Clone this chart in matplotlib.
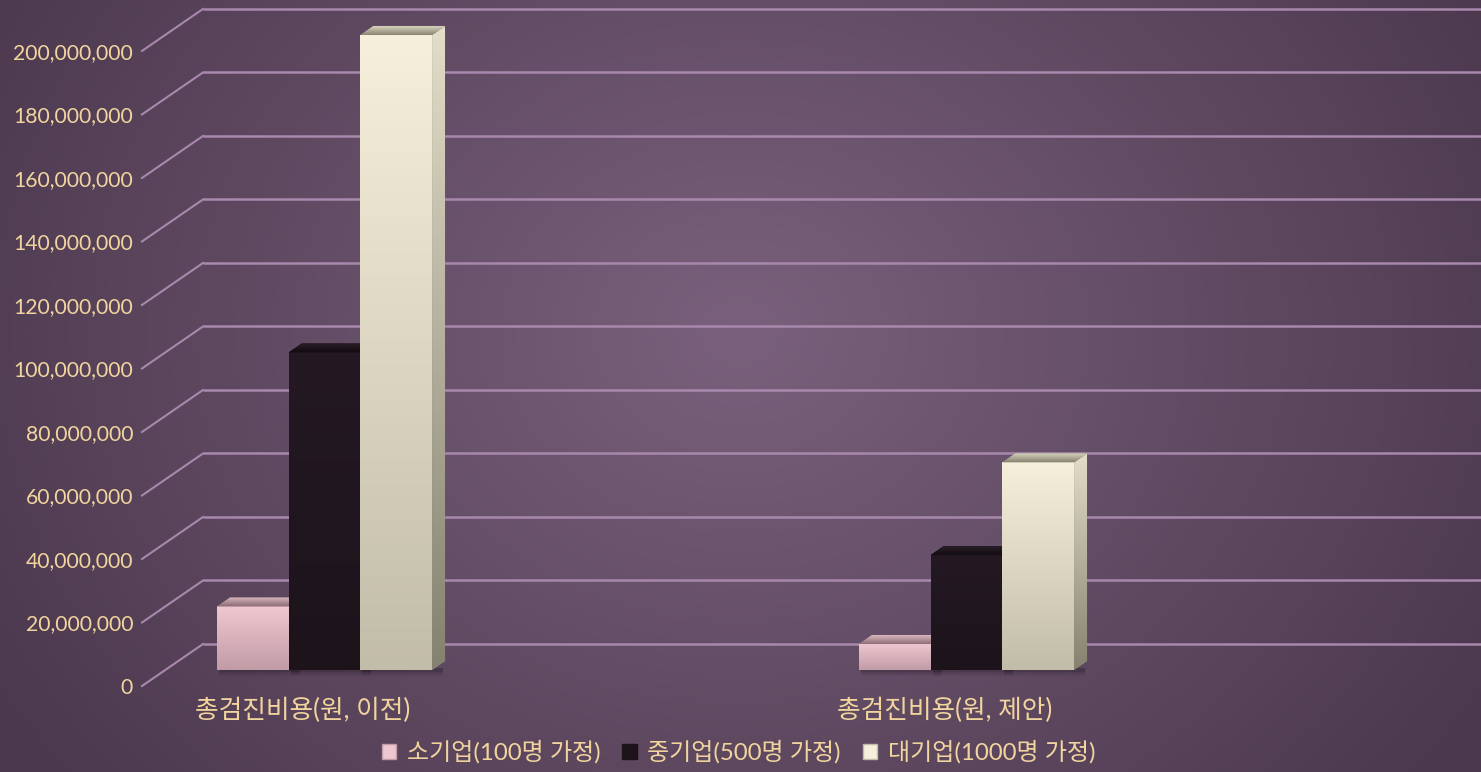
import numpy as np
import matplotlib
matplotlib.use("Agg")
import matplotlib.pyplot as plt
from matplotlib.patches import Polygon, Rectangle
from matplotlib.colors import LinearSegmentedColormap, to_rgb

# ---------------- data ----------------
categories = ['총검진비용(원, 이전)', '총검진비용(원, 제안)']
series_names = ['소기업(100명 가정)', '중기업(500명 가정)', '대기업(1000명 가정)']
small_co = [20_000_000, 8_200_000]
medium_co = [100_000_000, 36_200_000]
large_co = [200_000_000, 65_400_000]
ytick_values = list(range(0, 200_000_001, 20_000_000))

series_values = [small_co, medium_co, large_co]

# ---------------- style ----------------
TEXT_COLOR = '#f2d59e'
GRID_COLOR = '#a888ad'
front_top = ['#efc7d0', '#241923', '#f6efdc']
front_bot = ['#c19ca6', '#1c131b', '#c2bda8']
top_front = ['#8f7078', '#120b11', '#8a8674']
top_back = ['#d8b6be', '#2a1f29', '#d6d1bd']
side_top = ['#c9a6ae', '#1a1219', '#e2dcc8']
side_bot = ['#8d7078', '#100a0f', '#858270']

FONT_NUM = ['Lato', 'Noto Sans CJK KR', 'DejaVu Sans']
FONT_KR = ['Lato', 'Noto Sans CJK KR', 'DejaVu Sans']

W, H, DPI = 1481, 772, 100
fig = plt.figure(figsize=(W / DPI, H / DPI), dpi=DPI)

# background radial gradient
bg = fig.add_axes([0, 0, 1, 1], zorder=-10)
bg.set_axis_off()
yy, xx = np.mgrid[0:1:300j, 0:1:600j]
r = np.sqrt(((xx - 0.5) * 1.6) ** 2 + ((yy - 0.43) * 1.0) ** 2)
r = np.clip(r / 0.95, 0, 1)
c_in = np.array(to_rgb('#7a607c'))
c_out = np.array(to_rgb('#4b384d'))
img = c_in[None, None, :] * (1 - r[..., None]) + c_out[None, None, :] * r[..., None]
bg.imshow(img, extent=(0, 1, 0, 1), aspect='auto', origin='upper')
bg.set_xlim(0, 1)
bg.set_ylim(0, 1)

ax = fig.add_axes([0, 0, 1, 1])
ax.set_axis_off()
ax.patch.set_alpha(0)
XLIM = (-0.5055, 1.8014)
YLIM = (-32.12e6, 211.0e6)
ax.set_xlim(*XLIM)
ax.set_ylim(*YLIM)

sx = W / (XLIM[1] - XLIM[0])
sy = H / (YLIM[1] - YLIM[0])


def pdx(p):
    return p / sx


def pdy(p):
    return p / sy


# 3D geometry in pixels
DEPTH_DX, DEPTH_DY = 13, 9          # bar top depth
FRONT_X_PX = 142
BACK_X_PX = 203
FRONT_DY = -16                      # front plane below bar plane
BACK_DY = 26                        # back wall above bar plane

front_x = XLIM[0] + pdx(FRONT_X_PX)
back_x = XLIM[0] + pdx(BACK_X_PX)

# gridlines (back wall + diagonal on side wall)
for v in ytick_values:
    yb = v + pdy(BACK_DY)
    yf = v + pdy(FRONT_DY)
    ax.plot([back_x, XLIM[1]], [yb, yb], color=GRID_COLOR, lw=1.8, zorder=1,
            solid_capstyle='butt')
    ax.plot([front_x, back_x], [yf, yb], color=GRID_COLOR, lw=1.5, zorder=1)
    ax.text(XLIM[0] + pdx(133), yf, f'{v:,}', ha='right', va='center_baseline',
            color=TEXT_COLOR, fontsize=15.2, family=FONT_NUM, zorder=5)

bar_w = 0.1117
x = np.arange(len(categories))
offsets = [-bar_w, 0.0, bar_w]


def gradient_fill(patch, extent, c1, c2, direction='v', z=3):
    n = 64
    cm = LinearSegmentedColormap.from_list('g', [c2, c1])
    g = np.linspace(0, 1, n)
    if direction == 'v':
        arr = g[:, None]
    else:
        arr = g[None, :]
    im = ax.imshow(arr, extent=extent, origin='lower', cmap=cm, aspect='auto',
                   zorder=z, interpolation='bilinear')
    im.set_clip_path(patch)


ddx, ddy = pdx(DEPTH_DX), pdy(DEPTH_DY)

for si, vals in enumerate(series_values):
    z = 3 + si * 0.1
    bars = ax.bar(x + offsets[si], vals, width=bar_w, color=front_bot[si],
                  zorder=z, linewidth=0)
    for b in bars:
        x0, w, h = b.get_x(), b.get_width(), b.get_height()
        x1 = x0 + w
        # soft shadow
        for k, a in enumerate([0.10, 0.08, 0.06]):
            sh = Rectangle((x0 + pdx(2), -pdy(2 + 2 * k)), w + pdx(DEPTH_DX * 0.7),
                           pdy(4 + 2 * k), color='black', alpha=a, zorder=2,
                           linewidth=0)
            ax.add_patch(sh)
        # front gradient
        gradient_fill(b, (x0, x1, 0, h), front_top[si], front_bot[si], 'v', z + 0.01)
        # top face
        top = Polygon([(x0, h), (x1, h), (x1 + ddx, h + ddy), (x0 + ddx, h + ddy)],
                      closed=True, facecolor=top_front[si], linewidth=0, zorder=z + 0.02)
        ax.add_patch(top)
        gradient_fill(top, (x0, x1 + ddx, h, h + ddy), top_back[si], top_front[si], 'v', z + 0.02)
        # right side
        side = Polygon([(x1, 0), (x1, h), (x1 + ddx, h + ddy), (x1 + ddx, ddy)],
                       closed=True, facecolor=side_bot[si], linewidth=0, zorder=z - 0.05)
        ax.add_patch(side)
        gradient_fill(side, (x1, x1 + ddx, 0, h + ddy), side_top[si], side_bot[si], 'v', z - 0.05)

# category labels (front plane)
for xi, cat in zip(x, categories):
    ax.text(xi - pdx(22), pdy(-40), cat, ha='center', va='center',
            color=TEXT_COLOR, fontsize=18.5, family=FONT_KR)

# legend
handles = [Rectangle((0, 0), 1, 1, facecolor=front_top[i], edgecolor=front_bot[i])
           for i in range(3)]
handles[1].set_facecolor('#1c131b')
fig.legend(handles, series_names, loc='center', bbox_to_anchor=(738.5 / W, 20 / H),
           ncol=3, frameon=False, prop={'family': FONT_KR, 'size': 17.3},
           labelcolor=TEXT_COLOR, handlelength=0.6, handleheight=0.6,
           handletextpad=0.45, columnspacing=0.9)

fig.savefig('out.png', dpi=DPI)
